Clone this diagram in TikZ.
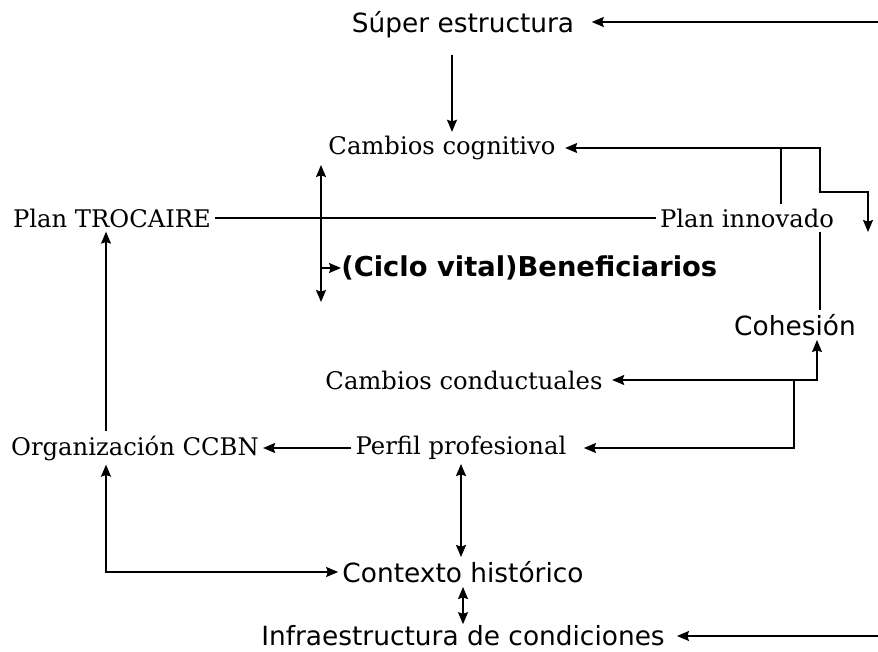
\documentclass[tikz,border=0pt]{standalone}
\usepackage{fontspec}
\setmainfont{DejaVu Serif}
\setsansfont{DejaVu Sans}
\usetikzlibrary{arrows.meta,calc}
\tikzset{
  every node/.style={
    inner sep=3pt
  },
  serif label/.style={
    font=\fontsize{18.2}{21}\selectfont
  },
  sans label/.style={
    font=\sffamily\fontsize{19.8}{22}\selectfont
  },
  bold label/.style={
    font=\sffamily\bfseries\fontsize{20.5}{23}\selectfont
  },
  link/.style={
    line width=1pt,
    >={Stealth[length=9pt,width=7.5pt,inset=1.2pt]}
  }
}

\begin{document}
\begin{tikzpicture}[x=0.75pt,y=-0.75pt]
\useasboundingbox (0,0) rectangle (878,652);

% texts
\node [sans label] (sup) at (463,25) {Súper estructura};
\node [serif label] (cog) at (442,148) {Cambios cognitivo};
\node [serif label] (troc) at (112,218) {Plan TROCAIRE};
\node [serif label] (innov) at (747,218) {Plan innovado};
\node [bold label, anchor=west, inner sep=0pt] (benef) at (341,268) {(Ciclo vital)Beneficiarios};
\node [sans label] (coh) at (795,325) {Cohesión};
\node [serif label] (cond) at (464,380) {Cambios conductuales};
\node [serif label] (org) at (135,448) {Organización CCBN};
\node [serif label] (perfil) at (461,448) {Perfil profesional};
\node [sans label] (ctx) at (463,572) {Contexto histórico};
\node [sans label, inner sep=1pt] (infra) at (463,636) {Infraestructura de condiciones};

% free ends and bends
\coordinate (edgetop) at (878,22);
\coordinate (edgebot) at (878,636);
\coordinate (bendA) at (820,192);
\coordinate (dropA) at (868,232);
\coordinate (tapA) at (781,148);
\coordinate (lifeup) at (321,165);
\coordinate (lifedown) at (321,302);
\coordinate (tapB) at (794,381);
\coordinate (cohin) at (817,381);
\coordinate (leftcol) at (106,448);

\begin{scope}[link]
\draw [->, shorten >=10pt] (edgetop) -- (edgetop -| sup.east);
\draw [->] ($(sup.south)+(-11,12)$) -- ($(sup.south |- cog.north)+(-11,0)$);
\draw [<->, shorten <=4pt] (cog.east) -| (bendA) -| (dropA);
\draw (innov.north -| tapA) -- (tapA);
\draw (troc.east) -- (innov.west);
\draw [<->] (lifeup) -- (lifedown);
\draw [->] (lifeup |- benef.west) -- (benef.west);
\draw (innov.south -| bendA) -- (coh.north -| bendA);
\draw [<->, shorten <=4pt] (cond.east) -| (coh.south -| cohin);
\draw [->, shorten >=10pt] (tapB) |- (perfil.east);
\draw [->] (perfil.west) -- (org.east);
\draw [->] (org.north -| leftcol) -- (troc.south -| leftcol);
\draw [<->] (org.south -| leftcol) |- (ctx.west);
\draw [<->] (perfil.south) -- (perfil.south |- ctx.north);
\draw [<->] (ctx.south) -- (ctx.south |- infra.north);
\draw [->, shorten >=8pt] (edgebot) -- (infra.east);
\end{scope}
\end{tikzpicture}
\end{document}
